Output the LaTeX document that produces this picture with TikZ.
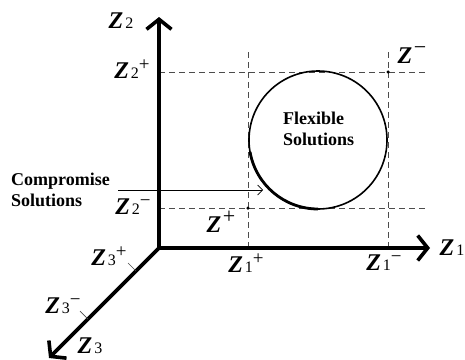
\documentclass[tikz,border=0pt]{standalone}
\usepackage{fontspec}
\setmainfont{Liberation Serif}
\usetikzlibrary{arrows.meta}
\newcommand{\subfnt}{\fontsize{16}{16}\selectfont}
\newcommand{\supfnt}{\fontsize{19}{19}\selectfont}
\newcommand{\supsfnt}{\fontsize{22}{22}\selectfont}
\newcommand{\zl}[2]{{\bfseries\itshape Z}\kern2pt{\subfnt #1}\raisebox{8.5pt}{\supfnt #2}}
\newcommand{\zs}[1]{{\bfseries\itshape Z}\kern1.5pt\raisebox{8.5pt}{\supsfnt #1}}
\begin{document}
\begin{tikzpicture}[x=1pt,y=-1pt,
  axis/.style={line width=3.6pt, line join=miter, -{Straight Barb[length=10pt,width=25pt]}},
  guide/.style={draw=black!70, line width=0.8pt, dash pattern=on 6pt off 4pt},
  zlab/.style={font=\fontsize{24}{24}\selectfont, inner sep=0pt},
  txt/.style={font=\fontsize{18}{20.5}\selectfont\bfseries, align=left, inner sep=0pt},
  tick/.style={draw=black!70, line width=0.7pt},
  dot/.style={circle, fill=black, inner sep=0pt, minimum size=3.5pt}]
\useasboundingbox (0,0) rectangle (465,359);
% axis points
\coordinate (O) at (159,248);
\coordinate (Z2tip) at (159,17);
\coordinate (Z1tip) at (430,248);
\coordinate (Z3tip) at (49,358);
% guide ends
\coordinate (h1a) at (159,72);  \coordinate (h1b) at (426,72);
\coordinate (h2a) at (159,208); \coordinate (h2b) at (426,208);
\coordinate (v1a) at (248,52);  \coordinate (v1b) at (248,248);
\coordinate (v2a) at (388,52);  \coordinate (v2b) at (388,248);
\draw[guide] (h1a) -- (h1b);
\draw[guide] (h2a) -- (h2b);
\draw[guide] (v1a) -- (v1b);
\draw[guide] (v2a) -- (v2b);
% circle
\coordinate (C) at (318,140);
\draw[line width=1.6pt] (C) circle[radius=69];
\draw[line width=2.8pt] ([shift={(170:69)}]C) arc[start angle=170, end angle=90, radius=69];
% axes
\draw[axis, {Straight Barb[length=10pt,width=25pt]}-{Straight Barb[length=10pt,width=25pt]}] (Z2tip) -- (O) -- (Z1tip);
\draw[axis] (O) -- (Z3tip);
% ticks on Z3
\coordinate (t1a) at (136,271); \coordinate (t1b) at (128,263);
\coordinate (t2a) at (88,319);  \coordinate (t2b) at (80,311);
\draw[tick] (t1a) -- (t1b);
\draw[tick] (t2a) -- (t2b);
% points
\node[dot] (Zminus) at (388,72) {};
\node[dot] (Zplus) at (248,208) {};
% labels
\node[zlab] (lZ2) at (121,21) {\zl{2}{}};
\node[zlab] (lZ2p) at (132,69) {\zl{2}{+}};
\node[zlab] (lZ2m) at (133,207) {\zl{2}{−}};
\node[zlab] (lZm) at (412,55) {\zs{−}};
\node[zlab] (lZp) at (221,222) {\zs{+}};
\node[zlab] (lZ1) at (452,248) {\zl{1}{}};
\node[zlab] (lZ1p) at (246,263) {\zl{1}{+}};
\node[zlab] (lZ1m) at (384,263) {\zl{1}{−}};
\node[zlab] (lZ3p) at (109,256) {\zl{3}{+}};
\node[zlab] (lZ3m) at (63,306) {\zl{3}{−}};
\node[zlab] (lZ3) at (90,346) {\zl{3}{}};
% texts
\node[txt, anchor=west] (flex) at (283,129) {Flexible\\Solutions};
\node[txt, anchor=west] (comp) at (11,190) {Compromise\\Solutions};
\coordinate (ca) at (118,190);
\coordinate (cb) at (263,190);
\draw[line width=0.7pt, -{Straight Barb[length=5pt,width=10pt]}] (ca) -- (cb);
\end{tikzpicture}
\end{document}
